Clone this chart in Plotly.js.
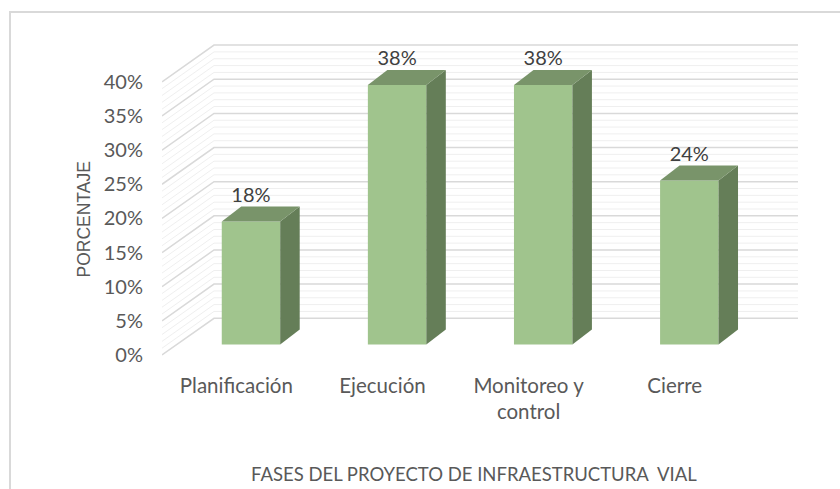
<!DOCTYPE html>
<html>
<head>
<meta charset="utf-8">
<script src="https://cdn.plot.ly/plotly-3.0.1.min.js"></script>
<style>html,body{margin:0;padding:0;background:#fff;}#chart{width:840px;height:489px;}</style>
</head>
<body>
<div id="chart"></div>
<script>
// ---- data ----
const categories = ['Planificación', 'Ejecución', 'Monitoreo y<br>control', 'Cierre'];
const values = [18, 38, 38, 24];
const valueLabels = ['18%', '38%', '38%', '24%'];
const yTicks = [0, 5, 10, 15, 20, 25, 30, 35, 40];
const yTickLabels = ['0%', '5%', '10%', '15%', '20%', '25%', '30%', '35%', '40%'];
const xTitle = 'FASES DEL PROYECTO DE INFRAESTRUCTURA  VIAL';
const yTitle = 'PORCENTAJE';

// ---- geometry (pseudo-3D) ----
const xRange = [-0.609, 3.744];
const yRange = [-2.27, 46.05];
const barWidth = 0.4;
const depthX = 0.1335, depthY = 2.2;   // bar depth offset
const backShift = 3.84;                // back wall offset (y units)
const frontShift = -1.54;              // front corner offset (y units)
const backX = -0.253;                  // back wall left x
const frontX = xRange[0];
const wallRight = xRange[1];
const labelShift = -0.1;

const FONT = 'Lato, "Liberation Sans", Arial, sans-serif';
const cFront = '#A0C48D', cSide = '#657E58', cTop = '#79946A';

// gridline paths
let majorPath = '', minorPath = '';
for (let v = 0; v <= yTicks[yTicks.length - 1]; v += 1) {
  const seg = `M${frontX},${v + frontShift} L${backX},${v + backShift} L${wallRight},${v + backShift} `;
  if (yTicks.includes(v)) majorPath += seg; else minorPath += seg;
}

const traces = [];
// front faces
traces.push({
  type: 'bar', x: categories.map((c, i) => i), y: values, width: barWidth,
  marker: {color: cFront, line: {width: 0}}, hoverinfo: 'skip'
});
// side and top faces
values.forEach((v, i) => {
  const xl = i - barWidth / 2, xr = i + barWidth / 2;
  traces.push({
    type: 'scatter', mode: 'lines', fill: 'toself', fillcolor: cSide,
    line: {width: 0, color: cSide},
    x: [xr, xr, xr + depthX, xr + depthX, xr],
    y: [0, v, v + depthY, depthY, 0], hoverinfo: 'skip'
  });
  traces.push({
    type: 'scatter', mode: 'lines', fill: 'toself', fillcolor: cTop,
    line: {width: 0, color: cTop},
    x: [xl, xr, xr + depthX, xl + depthX, xl],
    y: [v, v, v + depthY, v + depthY, v], hoverinfo: 'skip'
  });
});
// data labels
traces.push({
  type: 'scatter', mode: 'text', x: categories.map((c, i) => i),
  y: values.map(v => v + depthY), text: valueLabels, textposition: 'top center',
  textfont: {family: FONT, size: 20, color: '#404040'}, hoverinfo: 'skip', cliponaxis: false
});

const layout = {
  width: 840, height: 489,
  margin: {l: 162, r: 42, t: 30, b: 129},
  paper_bgcolor: '#fff', plot_bgcolor: 'rgba(0,0,0,0)',
  showlegend: false, hovermode: false,
  font: {family: FONT, color: '#595959'},
  xaxis: {
    range: xRange, showgrid: false, zeroline: false, showline: false,
    tickvals: categories.map((c, i) => i + labelShift), ticktext: categories,
    tickfont: {family: FONT, size: 20.5, color: '#595959'}, ticks: '', ticklabelstandoff: 11
  },
  yaxis: {
    range: yRange, showgrid: false, zeroline: false, showline: false,
    tickvals: yTicks.map(t => t + frontShift), ticktext: yTickLabels,
    tickfont: {family: FONT, size: 20, color: '#595959'}, ticks: '', ticklabelstandoff: 18
  },
  shapes: [
    {type: 'path', xref: 'x', yref: 'y', path: minorPath, layer: 'below', line: {color: '#EFEFEF', width: 1}},
    {type: 'path', xref: 'x', yref: 'y', path: majorPath, layer: 'below', line: {color: '#D9D9D9', width: 1.5}},
    {type: 'rect', xref: 'paper', yref: 'paper', x0: -0.239, x1: 1.09, y0: -0.43, y1: 1.0545,
     line: {color: '#D9D9D9', width: 2}, fillcolor: 'rgba(0,0,0,0)', layer: 'below'}
  ],
  annotations: [
    {text: xTitle, xref: 'paper', yref: 'paper', x: 0.4906, y: -0.345, xanchor: 'center', yanchor: 'middle',
     showarrow: false, font: {family: FONT, size: 18.5, color: '#595959'}},
    {text: yTitle, xref: 'paper', yref: 'paper', x: -0.1234, y: 0.4242, xanchor: 'center', yanchor: 'middle',
     textangle: -90, showarrow: false, font: {family: '"Liberation Sans", Arial, sans-serif', size: 17.5, color: '#595959'}}
  ]
};

Plotly.newPlot('chart', traces, layout, {staticPlot: true, displayModeBar: false});
</script>
</body>
</html>
